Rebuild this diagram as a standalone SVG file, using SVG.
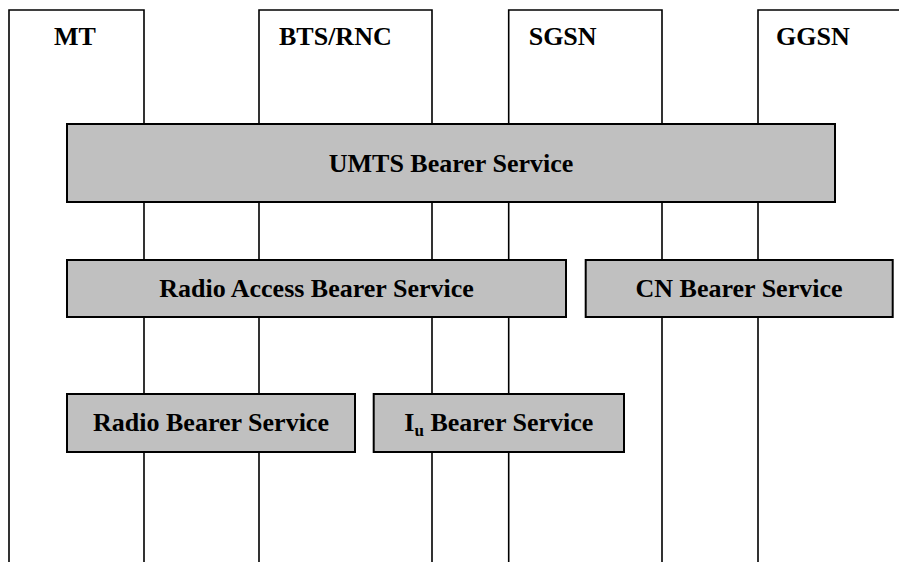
<svg xmlns="http://www.w3.org/2000/svg" width="899" height="562" viewBox="0 0 899 562">
<style>
.ln{stroke:#000;stroke-width:1.6;fill:none}
.box{fill:#c0c0c0;stroke:#000;stroke-width:2}
.t{font-family:"Liberation Serif","Times New Roman",serif;font-weight:bold;font-size:26px;fill:#000}
.c{text-anchor:middle}
</style>
<rect width="899" height="562" fill="#fff"/>
<g id="connectors">
<path class="ln" d="M9,562 V10 H144 V562"/>
<path class="ln" d="M259,562 V10 H432 V562"/>
<path class="ln" d="M508.7,562 V10 H662 V562"/>
<path class="ln" d="M758,562 V10 H899"/>
</g>
<g id="MT"><text class="t" x="54" y="45">MT</text></g>
<g id="BTS_RNC"><text class="t" x="279" y="45">BTS/RNC</text></g>
<g id="SGSN"><text class="t" x="528.7" y="45">SGSN</text></g>
<g id="GGSN"><text class="t" x="776" y="45">GGSN</text></g>
<g id="umts"><rect class="box" x="67" y="124" width="768" height="78"/><text class="t c" x="451" y="172">UMTS Bearer Service</text></g>
<g id="rab"><rect class="box" x="67" y="260" width="499" height="57"/><text class="t c" x="316.5" y="297">Radio Access Bearer Service</text></g>
<g id="cn"><rect class="box" x="585.7" y="260" width="307" height="57"/><text class="t c" x="739" y="297">CN Bearer Service</text></g>
<g id="rb"><rect class="box" x="67" y="394" width="288" height="58"/><text class="t c" x="211" y="431">Radio Bearer Service</text></g>
<g id="iu"><rect class="box" x="373.7" y="394" width="250.3" height="58"/><text class="t c" x="498.8" y="431">I<tspan font-size="17" dy="5">u</tspan><tspan dy="-5"> Bearer Service</tspan></text></g>
</svg>
